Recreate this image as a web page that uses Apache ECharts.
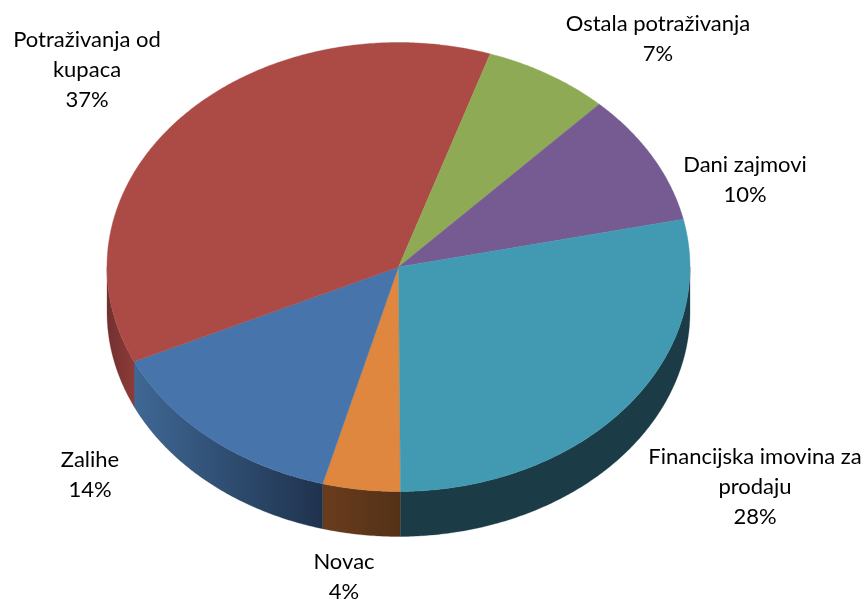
<!DOCTYPE html>
<html>
<head>
<meta charset="utf-8">
<style>
  html, body { margin: 0; padding: 0; background: #fff; }
  #chart { width: 868px; height: 601px; }
</style>
<script src="https://cdn.jsdelivr.net/npm/echarts@6/dist/echarts.min.js"></script>
</head>
<body>
<div id="chart"></div>
<script>
// clockwise from the bottom of the pie
const categories = ['Novac', 'Zalihe', 'Potraživanja od\nkupaca', 'Ostala potraživanja', 'Dani zajmovi', 'Financijska imovina za\nprodaju']
const values = [4.3, 13.9, 37.0, 7.0, 9.5, 28.3]
const topColors = ['#DF873E', '#4774AA', '#AC4A46', '#8FAA54', '#755B92', '#4299B2']
const sideColors = [
  ['#6A3C1E', '#533116'],
  ['#3F6895', '#1F324D'],
  ['#703030', '#8E3B38'],
  ['#5F7238', '#5F7238'],
  ['#4E3D61', '#4E3D61'],
  ['#1B3C47', '#1B3C47'],
]

// pie geometry, the tilted look is just an ellipse plus a wall below it
const CX = 398.5
const CY = 267
const RX = 291.5
const RY = 224.5
const DEPTH = 45
const START_ANGLE = 179.6

// label centres, same order as categories
const labelCenters = [[344, 577], [90, 475], [87, 70], [658, 39], [745, 180], [755, 487]]

const total = values.reduce((a, b) => a + b, 0)
let acc = 0
const sliceData = values.map((v, i) => {
  const start = START_ANGLE + acc / total * 360
  acc += v
  return [start, START_ANGLE + acc / total * 360, i]
})

function ellipsePoint(deg, dy = 0) {
  const a = deg * Math.PI / 180
  return [CX + RX * Math.sin(a), CY - RY * Math.cos(a) + dy]
}

function arcPoints(from, to, dy = 0) {
  const n = Math.max(2, Math.ceil((to - from) * 2))
  const pts = []
  for (let k = 0; k <= n; k++) pts.push(ellipsePoint(from + (to - from) * k / n, dy))
  return pts
}

function renderTop(params, api) {
  const i = api.value(2)
  const points = [[CX, CY], ...arcPoints(api.value(0), api.value(1))]
  return {
    type: 'polygon',
    shape: { points },
    style: { fill: topColors[i], stroke: topColors[i], lineWidth: 0.4 },
  }
}

function renderSide(params, api) {
  const i = api.value(2)
  // only the front half of the rim (90..270 deg) shows a wall
  const parts = []
  for (const shift of [0, 360]) {
    const from = Math.max(api.value(0) - shift, 90)
    const to = Math.min(api.value(1) - shift, 270)
    if (to > from) parts.push([from, to])
  }
  return {
    type: 'group',
    children: parts.map(([from, to]) => ({
      type: 'polygon',
      shape: { points: [...arcPoints(from, to), ...arcPoints(from, to, DEPTH).reverse()] },
      style: {
        fill: new echarts.graphic.LinearGradient(0, 0, 1, 0, [
          { offset: 0, color: sideColors[i][0] },
          { offset: 1, color: sideColors[i][1] },
        ]),
        stroke: sideColors[i][1],
        lineWidth: 0.3,
      },
    })),
  }
}

const chart = echarts.init(document.getElementById('chart'), null, { renderer: 'canvas' })

chart.setOption({
  animation: false,
  backgroundColor: '#fff',
  series: [
    { type: 'custom', coordinateSystem: 'none', silent: true, z: 1, renderItem: renderSide, data: sliceData },
    { type: 'custom', coordinateSystem: 'none', silent: true, z: 2, renderItem: renderTop, data: sliceData },
  ],
  graphic: categories.map((name, i) => ({
    type: 'text',
    z: 10,
    silent: true,
    x: labelCenters[i][0],
    y: labelCenters[i][1],
    style: {
      text: name + '\n' + Math.round(values[i]) + '%',
      fontFamily: 'Lato',
      fontSize: 22,
      lineHeight: 30,
      fill: '#000',
      align: 'center',
      verticalAlign: 'middle',
    },
  })),
})

window.addEventListener('resize', () => chart.resize())
</script>
</body>
</html>
